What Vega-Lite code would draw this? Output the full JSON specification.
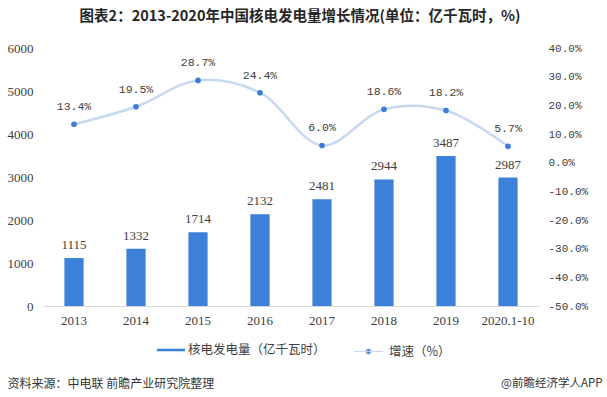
{
  "$schema": "https://vega.github.io/schema/vega-lite/v6.json",
  "width": 496,
  "height": 258,
  "autosize": {"type": "none"},
  "padding": {"left": 43, "top": 48, "right": 68, "bottom": 91},
  "background": "white",
  "title": {
    "text": "图表2：2013-2020年中国核电发电量增长情况(单位：亿千瓦时，%)",
    "font": "Noto Sans CJK SC",
    "fontSize": 14.5,
    "fontWeight": "bold",
    "color": "#262626",
    "anchor": "middle",
    "frame": "group",
    "dx": 9,
    "offset": 18
  },
  "config": {
    "view": {"stroke": null},
    "axis": {"grid": false, "ticks": false}
  },
  "data": {
    "values": [
      {"year": "2013", "value": 1115, "rate": 0.134},
      {"year": "2014", "value": 1332, "rate": 0.195},
      {"year": "2015", "value": 1714, "rate": 0.287},
      {"year": "2016", "value": 2132, "rate": 0.244},
      {"year": "2017", "value": 2481, "rate": 0.060},
      {"year": "2018", "value": 2944, "rate": 0.186},
      {"year": "2019", "value": 3487, "rate": 0.182},
      {"year": "2020.1-10", "value": 2987, "rate": 0.057}
    ]
  },
  "encoding": {
    "x": {
      "field": "year",
      "type": "ordinal",
      "sort": null,
      "title": "资料来源：中电联 前瞻产业研究院整理",
      "scale": {"paddingInner": 0.69, "paddingOuter": 0.345},
      "axis": {
        "labelAngle": 0,
        "labelFont": "Liberation Serif",
        "labelFontSize": 13,
        "labelColor": "#404040",
        "labelPadding": 8,
        "domainColor": "#d9d9d9",
        "ticks": false,
        "titleX": -36,
        "titleY": 77,
        "titleAlign": "left",
        "titleBaseline": "middle",
        "titleFont": "Noto Sans CJK SC",
        "titleFontSize": 12,
        "titleFontWeight": "normal",
        "titleColor": "#333333"
      }
    }
  },
  "layer": [
    {
      "encoding": {
        "y": {
          "field": "value",
          "type": "quantitative",
          "scale": {"domain": [0, 6000], "nice": false},
          "axis": {
            "orient": "left",
            "values": [0, 1000, 2000, 3000, 4000, 5000, 6000],
            "format": "d",
            "title": null,
            "domain": false,
            "labelFont": "Liberation Serif",
            "labelFontSize": 13,
            "labelColor": "#404040",
            "labelPadding": 10
          }
        }
      },
      "layer": [
        {
          "mark": {"type": "bar", "color": "#3d80da"},
          "encoding": {
            "color": {
              "datum": "核电发电量（亿千瓦时）",
              "type": "nominal",
              "scale": {"range": ["#3d80da"]},
              "legend": {
                "orient": "none",
                "legendX": 114,
                "legendY": 288,
                "title": null,
                "padding": 0,
                "symbolType": "M-1,-0.09H1V0.09H-1Z",
                "symbolSize": 784,
                "symbolStrokeWidth": 0,
                "labelOffset": 3,
                "labelFont": "Noto Sans CJK SC",
                "labelFontSize": 12.5,
                "labelColor": "#404040"
              }
            }
          }
        },
        {
          "mark": {"type": "text", "dy": -13, "baseline": "middle", "font": "Liberation Serif", "fontSize": 13, "color": "#404040"},
          "encoding": {"text": {"field": "value", "type": "quantitative", "format": "d"}}
        }
      ]
    },
    {
      "encoding": {
        "y": {
          "field": "rate",
          "type": "quantitative",
          "scale": {"domain": [-0.5, 0.4], "nice": false},
          "axis": {
            "orient": "right",
            "values": [-0.5, -0.4, -0.3, -0.2, -0.1, 0, 0.1, 0.2, 0.3, 0.4],
            "labelExpr": "replace(format(datum.value, '.1%'), '−', '-')",
            "title": "@前瞻经济学人APP",
            "titleAngle": 0,
            "titleX": 63,
            "titleY": 335,
            "titleAlign": "right",
            "titleBaseline": "middle",
            "titleFont": "Noto Sans CJK SC",
            "titleFontSize": 11.5,
            "titleFontWeight": "normal",
            "titleColor": "#333333",
            "domain": false,
            "labelFont": "Liberation Mono",
            "labelFontSize": 11,
            "labelColor": "#404040",
            "labelPadding": 9
          }
        }
      },
      "layer": [
        {
          "mark": {"type": "line", "interpolate": "catmull-rom", "strokeWidth": 2.5},
          "encoding": {
            "stroke": {
              "datum": "增速（%）",
              "type": "nominal",
              "scale": {"range": ["#c6d9f1"]},
              "legend": {
                "orient": "none",
                "legendX": 310,
                "legendY": 288,
                "title": null,
                "padding": 0,
                "symbolType": "M-1,0H1M-0.19,0A0.19,0.19,0,1,0,0.19,0A0.19,0.19,0,1,0,-0.19,0",
                "symbolSize": 841,
                "labelOffset": 5,
                "labelFont": "Noto Sans CJK SC",
                "labelFontSize": 12.5,
                "labelColor": "#404040",
                "encode": {
                  "symbols": {
                    "update": {
                      "fill": {"value": "#3b7dd8"},
                      "fillOpacity": {"value": 1},
                      "opacity": {"value": 1},
                      "stroke": {"value": "#c6d9f1"},
                      "strokeWidth": {"value": 1.2}
                    }
                  }
                }
              }
            }
          }
        },
        {
          "mark": {"type": "point", "filled": true, "size": 32, "color": "#3b7dd8", "opacity": 1}
        },
        {
          "mark": {"type": "text", "dy": -17, "baseline": "middle", "font": "Liberation Mono", "fontSize": 11.5, "color": "#404040"},
          "encoding": {"text": {"field": "rate", "type": "quantitative", "format": ".1%"}}
        }
      ]
    }
  ],
  "resolve": {"scale": {"y": "independent"}}
}
